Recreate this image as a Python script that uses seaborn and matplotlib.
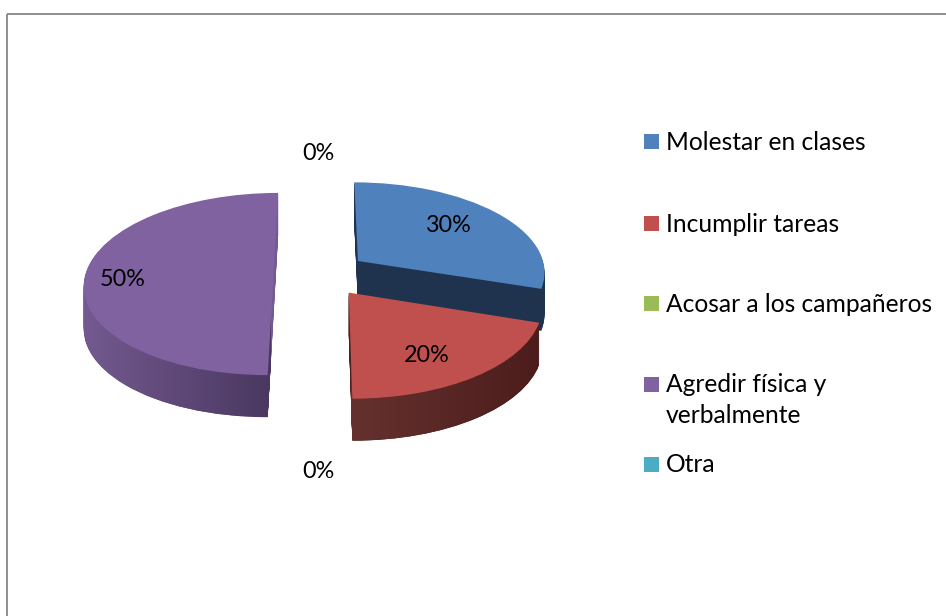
import numpy as np
import matplotlib
matplotlib.use("Agg")
import matplotlib.pyplot as plt
import seaborn as sns
from matplotlib.colors import LinearSegmentedColormap
from matplotlib.patches import Rectangle
from matplotlib.path import Path
from matplotlib.transforms import Transform

categories = ["Molestar en clases", "Incumplir tareas", "Acosar a los campañeros",
              "Agredir física y\nverbalmente", "Otra"]
values = [30, 20, 0, 50, 0]
slice_colors = ["#4f81bd", "#c0504d", "#9bbb59", "#8062a0", "#4bacc6"]
wall_colors = ["#1f334f", "#4f1f1e", "#4f1f1e", "#745a92", "#4bacc6"]

sns.set_theme(style="white")
plt.rcParams["font.family"] = ["Lato", "DejaVu Sans"]

fig = plt.figure(figsize=(9.46, 6.16), dpi=100, facecolor="white")
ax = fig.add_axes([0, 0, 1, 1])


class Tilted(Transform):
    """Projects the flat pie onto the tilted disc, in pixel-like axes units."""
    input_dims = output_dims = 2
    is_separable = False
    has_inverse = False

    def __init__(self, drop=0.0):
        super().__init__()
        self.drop = drop

    def transform_non_affine(self, xy):
        xy = np.asarray(xy, dtype=float)
        u, v = xy[:, 0], xy[:, 1]
        s = 1.0 / (1.0 + 0.11 * v)
        return np.column_stack([320.5 + 188 * u * s, 274 + self.drop - 90 * v * s])


def draw_pie(drop, colors, z):
    wedges, _ = ax.pie(values, colors=colors, startangle=90, counterclock=False,
                       explode=[0.25] * len(values), radius=1,
                       wedgeprops={"linewidth": 0})
    tr = Tilted(drop)
    for w in wedges:
        w.set_transform(tr + ax.transData)
    return wedges, tr


DEPTH = 42
# back-to-front: blue, green, teal, purple, red
order = [0, 2, 4, 3, 1]
ramps = {1: ("#65312e", "#4c1d1c"), 3: ("#73598f", "#4a3860")}
spans = {1: (351, 537), 3: (85, 270)}

for rank, idx in enumerate(order):
    if values[idx] == 0:
        continue
    base = 10 * (rank + 1)
    paths = []
    for d in range(DEPTH, 0, -1):
        wedges, tr = draw_pie(d, wall_colors, base)
        for j, w in enumerate(wedges):
            if j == idx:
                w.set_zorder(base)
                paths.append((w.get_patch_transform() + tr).transform_path(w.get_path()))
            else:
                w.remove()
    if idx in ramps:
        cmap = LinearSegmentedColormap.from_list("wall", ramps[idx])
        im = ax.imshow(np.linspace(0, 1, 256)[None, :], cmap=cmap, aspect="auto",
                       extent=[spans[idx][0], spans[idx][1], 616, 0], zorder=base + 1)
        im.set_clip_path(Path.make_compound_path(*paths), ax.transData)
    wedges, tr = draw_pie(0, slice_colors, base + 2)
    for j, w in enumerate(wedges):
        if j == idx:
            w.set_zorder(base + 2)
        else:
            w.remove()

ax.set_aspect("auto")
ax.set_xlim(0, 946)
ax.set_ylim(616, 0)
ax.set_axis_off()

# chart frame
ax.add_patch(Rectangle((7, 13.5), 1000, 700, fill=False, edgecolor="#868686",
                       linewidth=1.3, zorder=5))

# percentage labels
label_pos = [(449, 225), (427, 356), (318, 154), (123, 279), (318, 471)]
for v, (x, y) in zip(values, label_pos):
    ax.text(x, y, f"{v}%", ha="center", va="center", fontsize=16.8,
            color="black", zorder=100)

# legend
legend_y = [141, 223, 303, 384, 464]
text_y = [142, 224, 304, 400, 465]
for name, col, ys, yt in zip(categories, slice_colors, legend_y, text_y):
    ax.add_patch(Rectangle((644, ys - 7.5), 15, 15, facecolor=col, edgecolor="none", zorder=100))
    ax.text(666, yt, name, ha="left", va="center", fontsize=17.7, color="black",
            linespacing=1.42, zorder=100)

fig.savefig("out.png", dpi=100, facecolor="white")
